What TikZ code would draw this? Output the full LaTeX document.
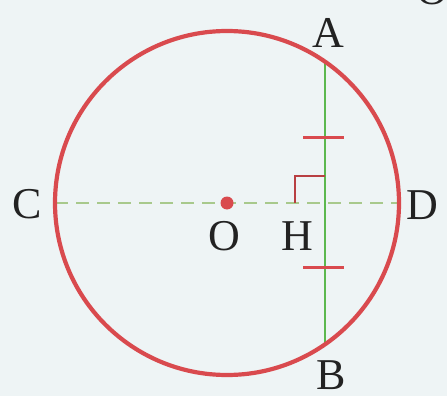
\documentclass[tikz,border=0pt]{standalone}
\usepackage{fontspec}
\setmainfont{Liberation Serif}
\definecolor{bg}{HTML}{EEF4F5}
\definecolor{cred}{HTML}{D94A4E}
\definecolor{cgreen}{HTML}{5CB84E}
\definecolor{cdash}{HTML}{A8C98C}
\definecolor{ink}{HTML}{222222}
\begin{document}
\begin{tikzpicture}[x=1pt,y=-1pt,
  lab/.style={font=\fontsize{44}{44}\selectfont, text=ink, inner sep=0pt, anchor=center},
  circ/.style={draw=cred, line width=4.2pt},
  chord/.style={draw=cgreen, line width=2.8pt},
  diam/.style={draw=cdash, line width=2.2pt, dash pattern=on 13pt off 8pt},
  tick/.style={draw=cred, line width=3pt},
  rmark/.style={draw=cred!85!black, line width=2.4pt}]
\fill[bg] (0,0) rectangle (447,396);
\useasboundingbox (0,0) rectangle (447,396);
\coordinate (O) at (227,203);
\coordinate (C) at (55,203);
\coordinate (D) at (399,203);
\coordinate (H) at (325,203);
\coordinate (A) at (325,62);
\coordinate (B) at (325,344);
\coordinate (T1a) at (303,137);
\coordinate (T1b) at (344,137);
\coordinate (T2a) at (303,267);
\coordinate (T2b) at (344,267);
\coordinate (R1) at (295,203);
\coordinate (R2) at (295,176);
\coordinate (R3) at (325,176);
\draw[diam] (C) -- (D);
\draw[chord] (A) -- (B);
\draw[tick] (T1a) -- (T1b);
\draw[tick] (T2a) -- (T2b);
\draw[rmark] (R1) -- (R2) -- (R3);
\draw[circ] (O) circle[radius=172pt];
\fill[cred] (O) circle[radius=6.5pt];
\node[lab] (lA) at (328,33) {A};
\node[lab] (lB) at (331,375) {B};
\node[lab] (lC) at (27,204) {C};
\node[lab] (lD) at (422,205) {D};
\node[lab] (lO) at (224,236) {O};
\node[lab] (lH) at (297,236) {H};
\begin{scope}
\clip (0,0) rectangle (447,396);
\node[lab] (lX) at (432,-10) {O};
\end{scope}
\end{tikzpicture}
\end{document}
